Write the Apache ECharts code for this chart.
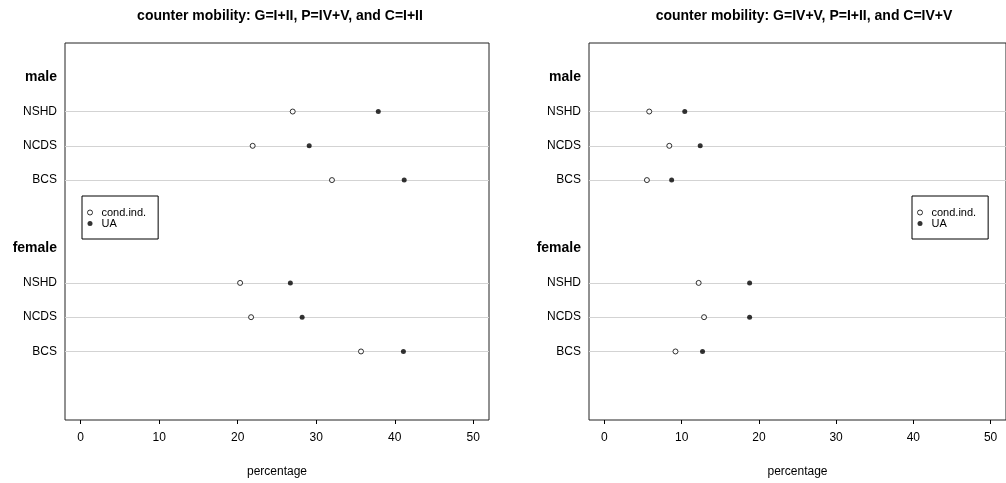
<!DOCTYPE html>
<html>
<head>
<meta charset="utf-8">
<script src="https://cdn.jsdelivr.net/npm/echarts@6/dist/echarts.min.js"></script>
<style>
html,body{margin:0;padding:0;background:#fff;}
#chart{width:1006px;height:483px;}
</style>
</head>
<body>
<div id="chart"></div>
<script>
// ---- data ----
const titles = ['counter mobility: G=I+II, P=IV+V, and C=I+II', 'counter mobility: G=IV+V, P=I+II, and C=IV+V'];
const groups = ['female', 'male'];            // bottom to top
const categories = ['NSHD', 'NCDS', 'BCS'];   // top to bottom within a group
const seriesNames = ['cond.ind.', 'UA'];
const xTicks = [0, 10, 20, 30, 40, 50];

const leftMaleCond   = [27.0, 21.9, 32.0];
const leftMaleUA     = [37.9, 29.1, 41.2];
const leftFemaleCond = [20.3, 21.7, 35.7];
const leftFemaleUA   = [26.7, 28.2, 41.1];

const rightMaleCond   = [5.8, 8.4, 5.5];
const rightMaleUA     = [10.4, 12.4, 8.7];
const rightFemaleCond = [12.2, 12.9, 9.2];
const rightFemaleUA   = [18.8, 18.8, 12.7];

// ---- layout helpers ----
const nItems = categories.length;
const groupSpan = nItems + 2;
function itemPos(g, j) { return g * groupSpan + (nItems - j); }
function groupPos(g) { return g * groupSpan + nItems + 1; }

const labelMap = {};
const itemPositions = [];
groups.forEach((gname, g) => {
  categories.forEach((c, j) => { labelMap[itemPos(g, j)] = c; itemPositions.push(itemPos(g, j)); });
  labelMap[groupPos(g)] = '{g|' + gname + '}';
});
const labelValues = Object.keys(labelMap).map(Number).sort((a, b) => a - b);

function pts(femaleVals, maleVals) {
  const out = [];
  femaleVals.forEach((v, j) => out.push([v, itemPos(0, j)]));
  maleVals.forEach((v, j) => out.push([v, itemPos(1, j)]));
  return out;
}

const FONT = 'Liberation Sans, Arial, Helvetica, sans-serif';
const panels = [
  { left: 65, cond: pts(leftFemaleCond, leftMaleCond), ua: pts(leftFemaleUA, leftMaleUA), legendLeft: 82 },
  { left: 589, cond: pts(rightFemaleCond, rightMaleCond), ua: pts(rightFemaleUA, rightMaleUA), legendLeft: 912 }
];
const plotW = 424, plotTop = 43, plotH = 378;

const option = {
  animation: false,
  backgroundColor: '#fff',
  textStyle: { fontFamily: FONT },
  title: panels.map((p, i) => ({
    text: titles[i],
    left: p.left + plotW / 2 - 2,
    top: 4,
    textAlign: 'center',
    textStyle: { fontSize: 14, fontWeight: 'bold', color: '#000', fontFamily: FONT }
  })),
  grid: panels.map(p => ({
    left: p.left, top: plotTop, width: plotW, height: plotH,
    show: true, borderColor: '#222', borderWidth: 1, backgroundColor: 'transparent', containLabel: false
  })),
  legend: panels.map(p => ({
    left: p.legendLeft, top: 196,
    orient: 'vertical',
    data: [
      { name: seriesNames[0], icon: 'circle', itemStyle: { color: '#fff', borderColor: '#000', borderWidth: 1 } },
      { name: seriesNames[1], icon: 'circle', itemStyle: { color: '#000', borderColor: '#000', borderWidth: 0 } }
    ],
    itemWidth: 5, itemHeight: 5, itemGap: 0,
    padding: [11, 12, 10, 5],
    borderColor: '#000', borderWidth: 1, borderRadius: 0,
    backgroundColor: '#fff',
    selectedMode: false,
    textStyle: { fontSize: 11, color: '#000', fontFamily: FONT, lineHeight: 11, padding: [0, 0, 0, 4] }
  })),
  xAxis: panels.map((p, i) => ({
    type: 'value', gridIndex: i, min: -2, max: 52,
    name: 'percentage', nameLocation: 'middle', nameGap: 46,
    nameTextStyle: { fontSize: 12, color: '#000', fontFamily: FONT },
    axisLine: { show: false, onZero: false },
    axisTick: { show: true, customValues: xTicks, length: 4, lineStyle: { color: '#000' } },
    axisLabel: { customValues: xTicks, fontSize: 12, color: '#000', margin: 12, fontFamily: FONT },
    splitLine: { show: false }
  })),
  yAxis: panels.map((p, i) => ({
    type: 'value', gridIndex: i, min: -1, max: 10,
    axisLine: { show: false, onZero: false },
    axisTick: { show: false },
    splitLine: { show: false },
    axisLabel: {
      customValues: labelValues,
      formatter: v => labelMap[v] || '',
      fontSize: 12, color: '#000', margin: 8, fontFamily: FONT,
      rich: { g: { fontSize: 14, fontWeight: 'bold', color: '#000', fontFamily: FONT } }
    }
  })),
  series: []
};

panels.forEach((p, i) => {
  option.series.push({
    name: seriesNames[0], type: 'scatter', xAxisIndex: i, yAxisIndex: i,
    data: p.cond, symbol: 'circle', symbolSize: 5, z: 3,
    itemStyle: { color: '#fff', borderColor: '#000', borderWidth: 1 },
    markLine: {
      silent: true, symbol: 'none', label: { show: false }, z: 1,
      lineStyle: { color: '#d3d3d3', type: 'solid', width: 1 },
      data: itemPositions.map(y => ({ yAxis: y }))
    }
  });
  option.series.push({
    name: seriesNames[1], type: 'scatter', xAxisIndex: i, yAxisIndex: i,
    data: p.ua, symbol: 'circle', symbolSize: 5, z: 3,
    itemStyle: { color: '#000' }
  });
});

const chart = echarts.init(document.getElementById('chart'), null, { renderer: 'canvas' });
chart.setOption(option);
</script>
</body>
</html>
